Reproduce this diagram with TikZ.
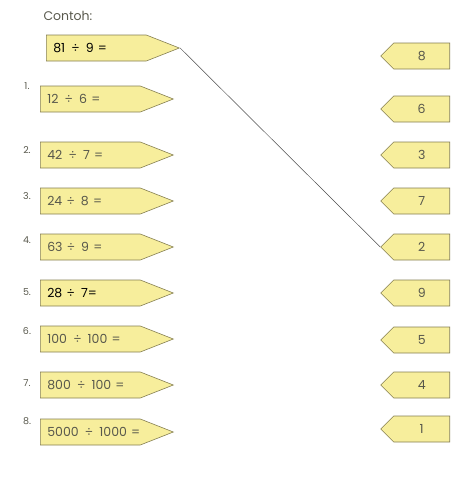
\documentclass[tikz,border=0pt]{standalone}
\usepackage{fontspec}
\setmainfont{Poppins}
\usepackage{tikz}
\usetikzlibrary{%
  positioning
 ,shapes.symbols
}
\definecolor{boxfill}{HTML}{F7EE9C}
\definecolor{boxline}{HTML}{857F52}
\definecolor{txt}{HTML}{58584C}
\tikzstyle{sheet}=[x=1pt,y=-1pt,font=\fontsize{12.5}{14}\selectfont,text=txt]
\tikzstyle{qn}=[signal,signal to=east,signal pointer angle=43,draw=boxline,fill=boxfill,
  line width=0.6pt,minimum height=26pt,text width=86pt,inner xsep=7pt,inner ysep=0pt,align=left,anchor=west]
\tikzstyle{ans}=[signal,signal to=west,signal pointer angle=90,draw=boxline,fill=boxfill,
  line width=0.6pt,minimum height=26pt,text width=46pt,inner xsep=5pt,inner ysep=0pt,align=center,anchor=east]
\tikzstyle{nr}=[font=\fontsize{9.5}{11}\selectfont,text=txt]
\tikzstyle{link}=[draw=black!70,line width=0.5pt]

\begin{document}
\begin{tikzpicture}[sheet]
  \useasboundingbox (0,0) rectangle (465,480);
  \node[anchor=west] (title) at (40,16) {Contoh:};
  \node[qn,text=black] (q0) at (46,48) {81\enspace÷\enspace9 =};
%
  \node[qn] (q1) at (40,99) {12\enspace÷\enspace6 =};
  \node[qn] (q2) at (40,155) {42\enspace÷\enspace7 =};
  \node[qn] (q3) at (40,201) {24 ÷\enspace8 =};
  \node[qn] (q4) at (40,247) {63 ÷\enspace9 =};
  \node[qn,text=black] (q5) at (40,293) {28 ÷\enspace7=};
  \node[qn] (q6) at (40,339) {100\enspace÷\enspace100 =};
  \node[qn] (q7) at (40,385) {800\enspace÷\enspace100 =};
  \node[qn] (q8) at (40,432) {\makebox[86pt][l]{5000\enspace÷\enspace1000 =}};
%
  \node[nr] (n1) at (27,86) {1.};
  \node[nr] (n2) at (27,150) {2.};
  \node[nr] (n3) at (27,196) {3.};
  \node[nr] (n4) at (27,240) {4.};
  \node[nr] (n5) at (27,292) {5.};
  \node[nr] (n6) at (27,331) {6.};
  \node[nr] (n7) at (27,383) {7.};
  \node[nr] (n8) at (27,421) {8.};
%
  \node[ans] (a8) at (450,56) {8};
  \node[ans] (a6) at (450,109) {6};
  \node[ans] (a3) at (450,155) {3};
  \node[ans] (a7) at (450,201) {7};
  \node[ans] (a2) at (450,247) {2};
  \node[ans] (a9) at (450,293) {9};
  \node[ans] (a5) at (450,340) {5};
  \node[ans] (a4) at (450,385) {4};
  \node[ans] (a1) at (450,429) {1};
%
  \path[link] (q0.east) -- (a2.west);
\end{tikzpicture}
\end{document}
